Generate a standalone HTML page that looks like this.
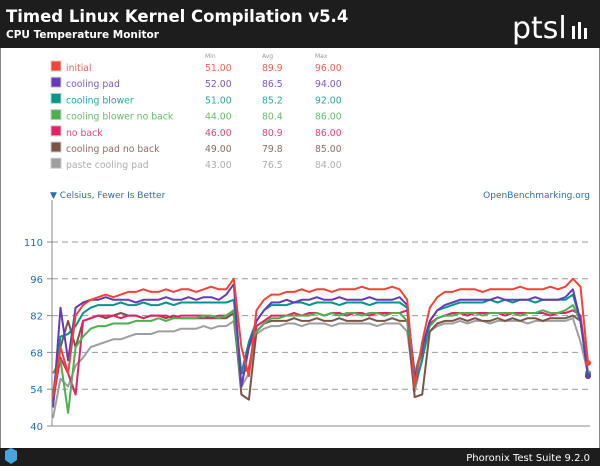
<!DOCTYPE html>
<html><head><meta charset="utf-8">
<style>
body{margin:0;width:600px;height:466px;overflow:hidden;background:#fff;font-family:"Liberation Sans","DejaVu Sans",sans-serif}
</style></head>
<body>
<svg id="chart" width="600" height="466" viewBox="0 0 600 466" xmlns="http://www.w3.org/2000/svg">
<rect x="0.5" y="0.5" width="599" height="465" fill="#fff" stroke="#888"/>
<rect x="0" y="0" width="600" height="48" fill="#1d1d1d"/>
<text x="6" y="22" fill="#fff" font-family="DejaVu Sans" font-weight="bold" font-size="16.5">Timed Linux Kernel Compilation v5.4</text>
<text x="6" y="38" fill="#fff" font-family="DejaVu Sans" font-weight="bold" font-size="10.5">CPU Temperature Monitor</text>
<text x="512" y="38" fill="#fff" font-family="DejaVu Sans" font-size="30">ptsl</text>
<g fill="#fff"><rect x="572" y="26" width="3" height="13"/><rect x="578" y="22" width="3" height="17"/><rect x="584" y="28" width="3" height="11"/></g>
<rect x="0" y="448" width="600" height="18" fill="#1d1d1d"/>
<path d="M5 451 L11 448 L17 451 L17 460 L11 464 L5 460Z" fill="#4aa3df"/>
<text x="590" y="461" fill="#fff" font-family="DejaVu Sans" font-size="10" text-anchor="end">Phoronix Test Suite 9.2.0</text>
<g id="legend"></g>
<text x="50" y="198" fill="#2b6ea8" font-family="DejaVu Sans" font-size="9">▼ Celsius, Fewer Is Better</text>
<text x="590" y="198" fill="#2b6ea8" font-family="DejaVu Sans" font-size="9" text-anchor="end">OpenBenchmarking.org</text>
<g id="grid"></g>
<g id="series"></g>
<line x1="52" y1="200" x2="52" y2="426" stroke="#888"/>
<line x1="52" y1="426" x2="590" y2="426" stroke="#888"/>
</svg>
<script>
const names=["initial","cooling pad","cooling blower","cooling blower no back","no back","cooling pad no back","paste cooling pad"];
const colors=["#f44336","#673ab7","#009688","#4caf50","#e91e63","#795548","#9e9e9e"];
const mins=["51.00","52.00","51.00","44.00","46.00","49.00","43.00"];
const avgs=["89.9","86.5","85.2","80.4","80.9","79.8","76.5"];
const maxs=["96.00","94.00","92.00","86.00","86.00","85.00","84.00"];
const yTicks=[40,54,68,82,96,110];
const sInitial=[51,70,60,82,86,88,89,90,89,90,91,91,92,91,91,92,91,92,92,91,92,93,92,92,96,70,59,84,88,90,90,91,91,92,91,92,92,91,92,92,92,93,92,92,92,93,92,88,55,72,85,89,91,91,92,92,92,91,92,92,92,92,93,92,92,92,93,92,93,96,93,64];
const sCoolingPad=[47,85,65,85,87,88,88,89,88,88,88,87,88,88,88,89,88,88,89,88,89,89,88,90,94,55,70,80,84,87,87,88,87,88,88,89,88,88,89,88,88,88,89,88,88,88,89,86,58,70,80,84,86,87,88,88,88,88,88,89,88,88,88,88,89,88,88,88,89,92,80,59];
const sBlower=[52,74,75,78,83,85,86,86,86,87,86,86,87,86,86,87,86,87,87,87,87,87,87,87,88,60,72,80,84,86,86,86,87,87,86,87,87,87,86,87,87,87,86,87,87,87,87,85,55,65,80,84,85,86,87,87,87,87,88,87,88,87,88,88,87,88,88,88,88,90,80,59];
const sBlowerNoBack=[60,65,45,70,74,77,78,78,79,79,79,80,80,80,81,80,81,81,81,81,82,82,81,82,84,55,70,76,79,81,81,82,82,82,82,83,82,83,82,83,83,82,83,83,82,83,83,80,60,70,78,81,82,82,83,83,83,82,83,83,83,83,82,83,83,84,83,83,84,86,80,60];
const sNoBack=[50,66,60,52,80,81,82,82,82,81,82,82,81,82,82,82,81,82,82,82,82,81,82,82,84,60,62,78,80,82,82,82,83,82,83,83,82,83,83,82,83,83,82,83,83,83,83,84,60,68,79,81,82,83,83,82,83,83,83,83,82,83,83,83,83,83,82,83,83,84,82,60];
const sPadNoBack=[48,70,80,70,80,81,82,81,82,83,82,82,81,82,82,81,82,81,81,81,81,81,81,81,83,52,50,76,79,80,80,80,81,80,80,81,80,80,81,80,80,80,81,80,80,81,80,80,51,52,76,79,80,80,81,80,81,80,80,81,80,81,80,81,81,80,81,81,81,82,80,60];
const sPaste=[43,58,55,63,66,70,71,72,73,73,74,75,75,75,76,76,76,77,77,77,78,77,78,78,80,55,60,75,77,78,78,79,79,78,79,79,79,78,79,79,79,79,79,78,79,79,79,76,53,66,76,78,79,79,80,79,80,80,79,80,80,80,80,79,80,80,80,80,80,81,72,60];
const series=[sInitial,sCoolingPad,sBlower,sBlowerNoBack,sNoBack,sPadNoBack,sPaste];

const NS="http://www.w3.org/2000/svg";
const y=v=>426-(v-40)*(184/70);
const x=(i,n)=>53+i*(535/(n-1));
function mk(tag,attrs,parent){const e=document.createElementNS(NS,tag);for(const k in attrs)e.setAttribute(k,attrs[k]);parent.appendChild(e);return e;}
const grid=document.getElementById('grid');
yTicks.forEach(t=>{
  if(t>40){const l=mk('line',{x1:52,x2:590,y1:y(t),y2:y(t),stroke:'#999','stroke-dasharray':'6,4'},grid);
  
  }
  const tk=mk('line',{x1:47,x2:52,y1:y(t),y2:y(t),stroke:'#888'},grid);
  
  
  const tx=mk('text',{x:43,y:y(t)+4,'text-anchor':'end',fill:'#2b6ea8','font-size':10,'font-family':'DejaVu Sans'},grid);
  tx.textContent=t;
  
  
});
const sg=document.getElementById('series');
for(let s=series.length-1;s>=0;s--){
  const d=series[s];const n=d.length;
  const p=mk('polyline',{points:d.map((v,i)=>x(i,n).toFixed(1)+','+y(v).toFixed(1)).join(' '),fill:'none',stroke:colors[s],'stroke-width':2,'stroke-linejoin':'round'},sg);
  
  
  const c=mk('circle',{cx:x(n-1,n),cy:y(d[n-1]),r:3,fill:colors[s]},sg);
  
  
}
const lg=document.getElementById('legend');
[["Min",205],["Avg",262],["Max",315]].forEach(([h,hx])=>{
  const t=mk('text',{x:hx,y:58,fill:'#999','font-size':6,'font-family':'DejaVu Sans'},lg);
  t.textContent=h;
  
  
});
names.forEach((nm,i)=>{
  const yy=68+i*16.2;
  const r=mk('rect',{x:51,y:yy-7,width:10,height:10,fill:colors[i],stroke:'#ccc'},lg);
  
  
  const vals=[[nm,66],[mins[i],205],[avgs[i],262],[maxs[i],315]];
  vals.forEach(([v,vx],k)=>{
    const t=mk('text',{x:vx,y:yy+3,fill:colors[i],'fill-opacity':0.85,'font-size':9.3,'font-family':'DejaVu Sans'},lg);
    t.textContent=v;
    
    
  });
});
</script>
</body></html>
